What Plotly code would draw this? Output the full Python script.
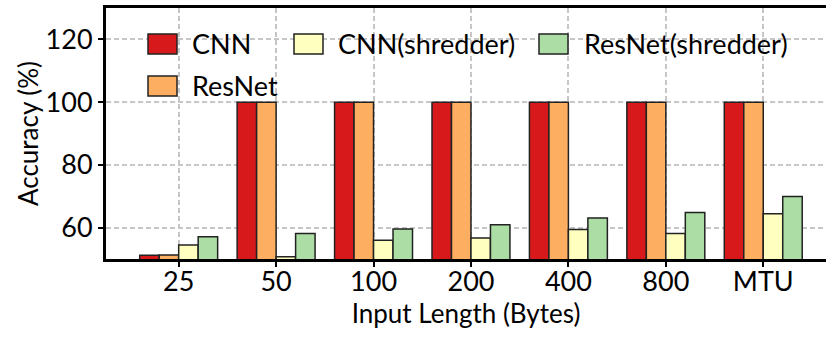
import plotly.graph_objects as go

categories = ["25", "50", "100", "200", "400", "800", "MTU"]
cnn = [51.2, 100, 100, 100, 100, 100, 100]
resnet = [51.3, 100, 100, 100, 100, 100, 100]
cnn_shredder = [54.5, 50.7, 56.0, 56.7, 59.4, 58.1, 64.4]
resnet_shredder = [57.1, 58.1, 59.6, 60.9, 63.1, 64.8, 69.9]
y_ticks = [60, 80, 100, 120]

series = [
    ("CNN", cnn, "#d7191c"),
    ("ResNet", resnet, "#fdae61"),
    ("CNN(shredder)", cnn_shredder, "#ffffbf"),
    ("ResNet(shredder)", resnet_shredder, "#abdda4"),
]

FONT = "Lato, 'Noto Sans', sans-serif"
W, H = 826, 337
ML, MR, MT, MB = 106, 0, 8, 78
PW, PH = W - ML - MR, H - MT - MB

fig = go.Figure()
for name, vals, col in series:
    fig.add_trace(go.Bar(
        x=categories, y=vals, name=name,
        marker=dict(color=col, line=dict(color="#222222", width=1.5)),
        showlegend=False,
    ))

def px2paper(px, py):
    return (px - ML) / PW, (H - MB - py) / PH

shapes = []
annotations = []
legend_pos = [  # (name, patch left px, patch top px, text left px)
    ("CNN", 148, 34, 192),
    ("ResNet", 148, 76, 192),
    ("CNN(shredder)", 294, 34, 338),
    ("ResNet(shredder)", 539, 34, 584),
]
colmap = {n: c for n, _, c in series}
for name, lx, ty, tx in legend_pos:
    x0, y1 = px2paper(lx, ty)
    x1, y0 = px2paper(lx + 29, ty + 20)
    shapes.append(dict(type="rect", xref="paper", yref="paper", x0=x0, x1=x1, y0=y0, y1=y1,
                       fillcolor=colmap[name], line=dict(color="#222222", width=1.5), layer="above"))
    ax, ay = px2paper(tx - 2, ty + 10)
    annotations.append(dict(text=name, xref="paper", yref="paper", x=ax, y=ay,
                            xanchor="left", yanchor="middle", showarrow=False,
                            font=dict(family=FONT, size=27, color="black")))

grid = dict(showgrid=True, gridcolor="#c6c6c6", griddash="5px,3px", gridwidth=1.5)

fig.update_layout(
    width=W, height=H,
    margin=dict(l=ML, r=MR, t=MT, b=MB, pad=0),
    paper_bgcolor="white", plot_bgcolor="white",
    barmode="group", bargap=0.2, bargroupgap=0,
    font=dict(family=FONT, size=26, color="black"),
    shapes=shapes, annotations=annotations,
    showlegend=False,
)
fig.update_xaxes(
    type="category",
    range=[-0.746, 6.644],
    showline=True, linecolor="black", linewidth=3, mirror=True,
    ticks="outside", ticklen=5, tickwidth=2, tickcolor="black",
    ticklabelstandoff=-8,
    tickfont=dict(size=27),
    title=dict(text="Input Length (Bytes)", font=dict(size=26), standoff=0),
    zeroline=False, **grid,
)
fig.update_yaxes(
    range=[50, 130],
    tickmode="array", tickvals=y_ticks,
    showline=True, linecolor="black", linewidth=3,
    ticks="outside", ticklen=5, tickwidth=2, tickcolor="black",
    tickfont=dict(size=27),
    title=dict(text="Accuracy (%)", font=dict(size=26), standoff=0),
    zeroline=False, **grid,
)
fig.write_html("out.html")
